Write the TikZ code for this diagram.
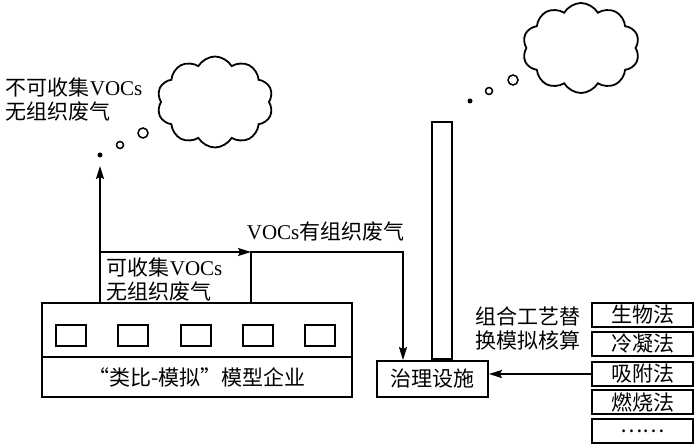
\documentclass[tikz,border=0pt]{standalone}
\usepackage{fontspec}
\setmainfont{Liberation Serif}
\newfontfamily\cjk{Noto Sans CJK SC}
\newcommand\zh[1]{{\cjk #1}}
\usetikzlibrary{arrows.meta,shapes.symbols}
\begin{document}
\begin{tikzpicture}[x=1pt,y=-1pt, line width=1.8pt,
 txt/.style={font=\fontsize{21}{24}\selectfont, inner sep=0pt, align=left},
 box/.style={draw, inner sep=0pt, font=\fontsize{21}{24}\selectfont},
 win/.style={draw, minimum width=30pt, minimum height=21pt, inner sep=0pt},
 arr/.style={-{Stealth[length=13pt,width=8pt,inset=2pt]}},
 puff/.style={cloud, cloud puffs=10, cloud puff arc=120, draw, cloud ignores aspect, inner sep=0pt},
 dotf/.style={circle, fill, inner sep=0pt, minimum size=5pt},
 ring/.style={circle, draw, inner sep=0pt, line width=1.5pt},
]
\useasboundingbox (0,0) rectangle (700,446);
% factory
\node[draw, minimum width=310pt, minimum height=94pt, inner sep=0pt] (fac) at (197,350) {};
\coordinate (d) at (0,357);
\draw (fac.west |- d) -- (fac.east |- d);
\node[txt] (faclab) at (197,377) {\zh{“类比-模拟”模型企业}};
\foreach \i/\x in {1/71,2/133,3/196,4/258,5/320}
  \node[win] (w\i) at (\x,335.5) {};
% treatment and stack
\node[box, minimum width=111pt, minimum height=36pt] (T) at (432.5,379) {\zh{治理设施}};
\coordinate (sx) at (442,0);
\node[draw, minimum width=20pt, minimum height=237pt, inner sep=0pt, anchor=south] (stack) at (sx |- T.north) {};
% right boxes
\foreach \i/\y/\t in {1/315/生物法,2/344/冷凝法,3/374/吸附法,4/402/燃烧法,5/431/……}
  \node[box, minimum width=101pt, minimum height=24pt] (b\i) at (642.5,\y) {\zh{\t}};
\draw[arr] (b3.west) -- (b3.west -| T.east);
% flows
\coordinate (c1) at (100,166);
\coordinate (c2) at (251,252);
\coordinate (c3) at (403,252);
\draw[arr] (c1 |- fac.north) -- (c1);
\draw[arr] (c1 |- c2) -- (c2);
\draw[arr] (c2 |- fac.north) -- (c2) -- (c3) -- (c3 |- T.north);
% texts
\node[txt, anchor=west] (t1) at (5,100) {\zh{不可收集}VOCs\\\zh{无组织废气}};
\node[txt, anchor=west] (t2) at (106,280) {\zh{可收集}VOCs\\\zh{无组织废气}};
\node[txt, anchor=west] (t3) at (246,232) {VOCs\zh{有组织废气}};
\node[txt, anchor=west] (t4) at (475,328) {\zh{组合工艺替}\\\zh{换模拟核算}};
% clouds
\node[puff, minimum width=116pt, minimum height=91pt] (cl1) at (215,102) {};
\node[dotf] (p1) at (100,155) {};
\node[ring, minimum size=7pt] (p2) at (120,145) {};
\node[ring, minimum size=10pt] (p3) at (143,133) {};
\node[puff, minimum width=117pt, minimum height=90pt] (cl2) at (581,48) {};
\node[dotf] (q1) at (470,101) {};
\node[ring, minimum size=7pt] (q2) at (489,91) {};
\node[ring, minimum size=10pt] (q3) at (513,80) {};
\end{tikzpicture}
\end{document}
